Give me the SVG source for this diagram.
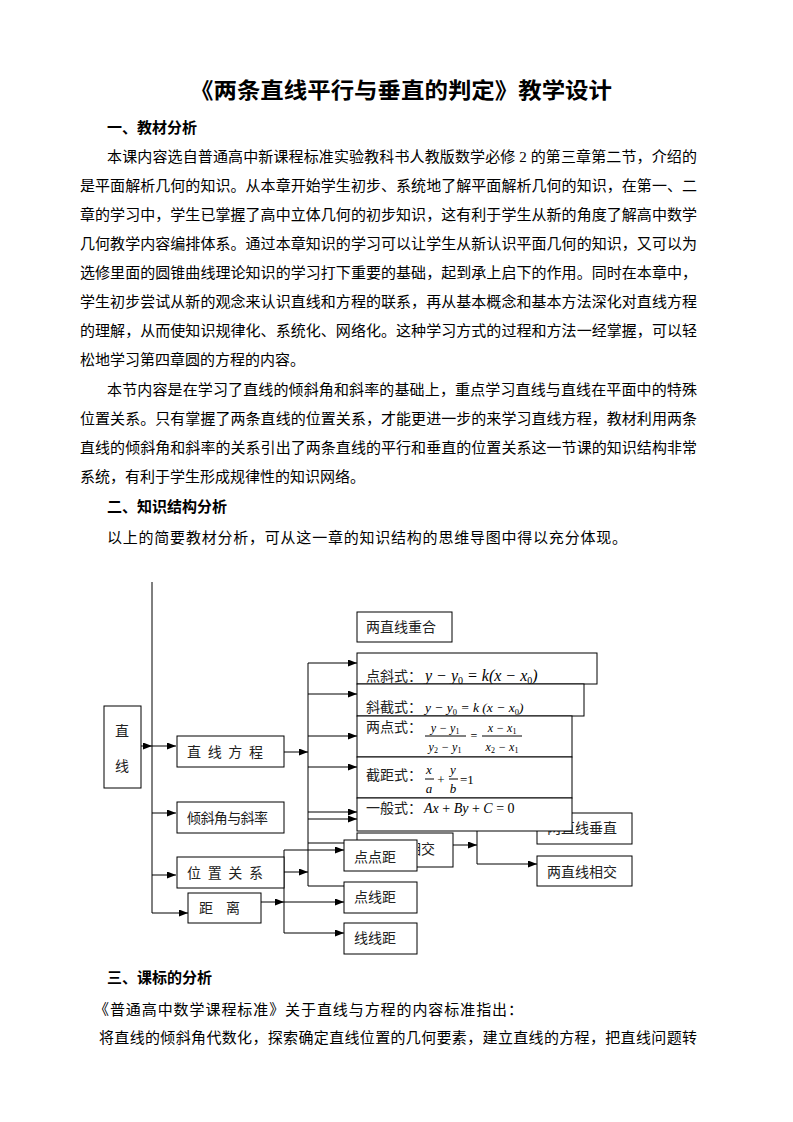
<svg xmlns="http://www.w3.org/2000/svg" width="793" height="1122" viewBox="0 0 793 1122">
<style>
.t{font-family:"Liberation Serif","Noto Sans CJK SC",serif;font-size:15px;fill:#000}
.b{font-weight:bold}
.l{font-family:"Liberation Serif","Noto Sans CJK SC",serif;font-size:14px;fill:#222}
.m{font-family:"Liberation Serif",serif;font-style:italic;fill:#000}
.s{font-style:normal;font-size:9px}
.box{fill:#fff;stroke:#000;stroke-width:1}
.c{fill:none;stroke:#000;stroke-width:1}
.a{marker-end:url(#ah)}
</style>
<defs>
<marker id="ah" markerWidth="9" markerHeight="7" refX="9" refY="3.5" orient="auto" markerUnits="userSpaceOnUse"><path d="M0,0 L9,3.5 L0,7 z" fill="#000"/></marker>
<clipPath id="hid"><rect x="418" y="834" width="35" height="32"/></clipPath>
</defs>
<rect width="793" height="1122" fill="#fff"/>

<g id="text">
<text class="t b" x="190" y="98" style="font-size:22px" textLength="422" lengthAdjust="spacingAndGlyphs">《两条直线平行与垂直的判定》教学设计</text>
<text class="t b" x="107" y="133">一、教材分析</text>
<text class="t" x="107" y="162" textLength="590">本课内容选自普通高中新课程标准实验教科书人教版数学必修 2 的第三章第二节，介绍的</text>
<text class="t" x="80" y="191" textLength="617">是平面解析几何的知识。从本章开始学生初步、系统地了解平面解析几何的知识，在第一、二</text>
<text class="t" x="80" y="220" textLength="617">章的学习中，学生已掌握了高中立体几何的初步知识，这有利于学生从新的角度了解高中数学</text>
<text class="t" x="80" y="249" textLength="617">几何教学内容编排体系。通过本章知识的学习可以让学生从新认识平面几何的知识，又可以为</text>
<text class="t" x="80" y="278" textLength="617">选修里面的圆锥曲线理论知识的学习打下重要的基础，起到承上启下的作用。同时在本章中，</text>
<text class="t" x="80" y="307" textLength="617">学生初步尝试从新的观念来认识直线和方程的联系，再从基本概念和基本方法深化对直线方程</text>
<text class="t" x="80" y="336" textLength="617">的理解，从而使知识规律化、系统化、网络化。这种学习方式的过程和方法一经掌握，可以轻</text>
<text class="t" x="80" y="365">松地学习第四章圆的方程的内容。</text>
<text class="t" x="107" y="395" textLength="590">本节内容是在学习了直线的倾斜角和斜率的基础上，重点学习直线与直线在平面中的特殊</text>
<text class="t" x="80" y="424" textLength="617">位置关系。只有掌握了两条直线的位置关系，才能更进一步的来学习直线方程，教材利用两条</text>
<text class="t" x="80" y="453" textLength="617">直线的倾斜角和斜率的关系引出了两条直线的平行和垂直的位置关系这一节课的知识结构非常</text>
<text class="t" x="80" y="482">系统，有利于学生形成规律性的知识网络。</text>
<text class="t b" x="107" y="512">二、知识结构分析</text>
<text class="t" x="107" y="543" textLength="520">以上的简要教材分析，可从这一章的知识结构的思维导图中得以充分体现。</text>
<text class="t b" x="107" y="983">三、课标的分析</text>
<text class="t" x="94" y="1015" textLength="429">《普通高中数学课程标准》关于直线与方程的内容标准指出：</text>
<text class="t" x="99" y="1043" textLength="598">将直线的倾斜角代数化，探索确定直线位置的几何要素，建立直线的方程，把直线问题转</text>
</g>

<g id="connectors">
<path class="c" d="M152,582 V913"/>
<path class="c a" d="M141,746 H152"/>
<path class="c a" d="M152,746 H176"/>
<path class="c a" d="M152,813 H176"/>
<path class="c a" d="M152,875 H176"/>
<path class="c a" d="M152,913 H188"/>
<path class="c a" d="M284,752 H308"/>
<path class="c" d="M308,663 V886"/>
<path class="c a" d="M308,663 H357"/>
<path class="c a" d="M308,694 H357"/>
<path class="c a" d="M308,736 H357"/>
<path class="c a" d="M308,767 H357"/>
<path class="c a" d="M308,812 H357"/>
<path class="c a" d="M308,819 H357"/>
<path class="c" d="M308,843 H357"/>
<path class="c" d="M308,886 H344"/>
<path class="c a" d="M284,872 H308"/>
<path class="c" d="M284,850 V933"/>
<path class="c a" d="M284,850 H344"/>
<path class="c a" d="M261,902 H284"/>
<path class="c a" d="M284,902 H344"/>
<path class="c a" d="M284,933 H344"/>
<path class="c a" d="M453,845 H477"/>
<path class="c" d="M477,829 V864"/>
<path class="c a" d="M477,864 H537"/>
</g>

<g id="n-zhixian">
<rect class="box" x="104" y="706" width="37" height="82"/>
<text class="l" x="115" y="736">直</text>
<text class="l" x="115" y="771">线</text>
</g>
<g id="n-fangcheng">
<rect class="box" x="177" y="736" width="107" height="31"/>
<text class="l" x="187" y="757" textLength="76">直 线 方 程</text>
</g>
<g id="n-qingxie">
<rect class="box" x="177" y="802" width="107" height="31"/>
<text class="l" x="187" y="823" textLength="81">倾斜角与斜率</text>
</g>
<g id="n-weizhi">
<rect class="box" x="177" y="857" width="107" height="31"/>
<text class="l" x="187" y="878" textLength="76">位 置 关 系</text>
</g>
<g id="n-juli">
<rect class="box" x="188" y="893" width="73" height="30"/>
<text class="l" y="913"><tspan x="199">距</tspan><tspan x="226">离</tspan></text>
</g>

<g id="n-chonghe">
<rect class="box" x="357" y="612" width="95" height="30"/>
<text class="l" x="366" y="632">两直线重合</text>
</g>
<g id="n-xiangjiao-hidden">
<rect class="box" x="357" y="833" width="96" height="34"/>
<text class="l" x="407" y="854" clip-path="url(#hid)">相交</text>
</g>
<g id="n-chuizhi">
<rect class="box" x="537" y="813" width="95" height="31"/>
<text class="l" x="547" y="833">两直线垂直</text>
</g>
<g id="n-xiangjiao">
<rect class="box" x="537" y="856" width="95" height="30"/>
<text class="l" x="547" y="877">两直线相交</text>
</g>

<g id="n-dianxie">
<rect class="box" x="357" y="653" width="240" height="31"/>
<text class="l" x="366" y="681">点斜式：</text>
<text class="m" x="425" y="681" style="font-size:16px">y − y<tspan class="s" style="font-size:10px" dy="3">0</tspan><tspan dy="-3"> = k(x − x</tspan><tspan class="s" style="font-size:10px" dy="3">0</tspan><tspan dy="-3">)</tspan></text>
</g>
<g id="n-xiejie">
<rect class="box" x="357" y="684" width="227" height="32"/>
<text class="l" x="366" y="712">斜截式：</text>
<text class="m" x="425" y="712" style="font-size:13.5px">y − y<tspan class="s" style="font-size:8.5px" dy="3">0</tspan><tspan dy="-3"> = k (x − x</tspan><tspan class="s" style="font-size:8.5px" dy="3">0</tspan><tspan dy="-3">)</tspan></text>
</g>
<g id="n-liangdian">
<rect class="box" x="357" y="716" width="215" height="41"/>
<text class="l" x="366" y="732">两点式：</text>
<text class="m" x="445" y="732" text-anchor="middle" style="font-size:12px">y − y<tspan class="s" style="font-size:8px" dy="2">1</tspan></text>
<path class="c" d="M425,736 H466"/>
<text class="m" x="445" y="751" text-anchor="middle" style="font-size:12px">y<tspan class="s" style="font-size:8px" dy="2">2</tspan><tspan dy="-2"> − y</tspan><tspan class="s" style="font-size:8px" dy="2">1</tspan></text>
<text class="m" x="474" y="740" text-anchor="middle" style="font-size:12px;font-style:normal">=</text>
<text class="m" x="502" y="732" text-anchor="middle" style="font-size:12px">x − x<tspan class="s" style="font-size:8px" dy="2">1</tspan></text>
<path class="c" d="M482,736 H522"/>
<text class="m" x="502" y="751" text-anchor="middle" style="font-size:12px">x<tspan class="s" style="font-size:8px" dy="2">2</tspan><tspan dy="-2"> − x</tspan><tspan class="s" style="font-size:8px" dy="2">1</tspan></text>
</g>
<g id="n-jieju">
<rect class="box" x="357" y="757" width="215" height="41"/>
<text class="l" x="366" y="780">截距式：</text>
<text class="m" x="429" y="774" text-anchor="middle" style="font-size:13px">x</text>
<path class="c" d="M425,779 H434"/>
<text class="m" x="429" y="793" text-anchor="middle" style="font-size:13px">a</text>
<text class="m" x="441" y="784" text-anchor="middle" style="font-size:13px;font-style:normal">+</text>
<text class="m" x="453" y="774" text-anchor="middle" style="font-size:13px">y</text>
<path class="c" d="M449,779 H458"/>
<text class="m" x="453" y="793" text-anchor="middle" style="font-size:13px">b</text>
<text class="m" x="460" y="784" style="font-size:13px;font-style:normal">=1</text>
</g>
<g id="n-yiban">
<rect class="box" x="357" y="798" width="215" height="33"/>
<text class="l" x="366" y="813">一般式：</text>
<text class="m" x="424" y="813" style="font-size:14px">Ax<tspan style="font-style:normal"> + </tspan>By<tspan style="font-style:normal"> + </tspan>C<tspan style="font-style:normal"> = 0</tspan></text>
</g>

<g id="n-diandian">
<rect class="box" x="344" y="840" width="73" height="31"/>
<text class="l" x="354" y="862">点点距</text>
</g>
<g id="n-dianxian">
<rect class="box" x="344" y="882" width="73" height="31"/>
<text class="l" x="354" y="902">点线距</text>
</g>
<g id="n-xianxian">
<rect class="box" x="344" y="923" width="73" height="31"/>
<text class="l" x="354" y="943">线线距</text>
</g>
</svg>
